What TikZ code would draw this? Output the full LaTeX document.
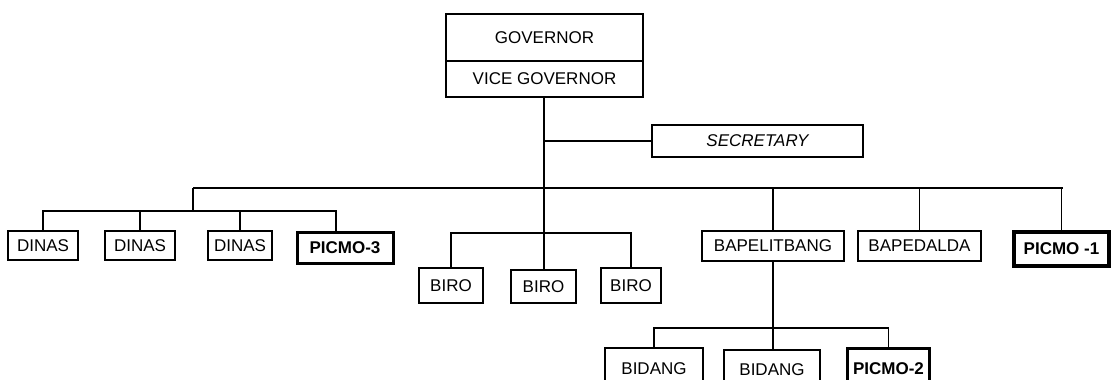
\documentclass[tikz,border=0pt]{standalone}
\usepackage{fontspec}
\setmainfont{Liberation Sans}
\begin{document}
\begin{tikzpicture}[x=1pt,y=-1pt,
  every node/.style={font=\fontsize{17}{20}\selectfont},
  box/.style={draw, line width=1.1pt, inner sep=0pt, rectangle},
  thickbox/.style={box, line width=3pt},
  heavybox/.style={box, line width=4.2pt},
  conn/.style={line width=1.1pt},
  spine/.style={line width=2pt}]
\useasboundingbox (0,0) rectangle (1114,380);
\begin{scope}
\clip (0,0) rectangle (1114,380);
% top
\node[box, minimum width=197, minimum height=47] (gov) at (544.5,37.5) {GOVERNOR};
\node[box, minimum width=197, minimum height=36] (vgov) at (544.5,79) {VICE GOVERNOR};
\node[box, minimum width=211, minimum height=32] (sec) at (757.5,141) {\itshape SECRETARY};
% dinas row
\node[box, minimum width=70, minimum height=29] (d1) at (43,245.5) {DINAS};
\node[box, minimum width=70, minimum height=29] (d2) at (140,245.5) {DINAS};
\node[box, minimum width=64, minimum height=29] (d3) at (240,245.5) {DINAS};
\node[thickbox, minimum width=96, minimum height=31] (p3) at (345,247.5) {\bfseries PICMO-3};
% biro row
\node[box, minimum width=64, minimum height=35] (b1) at (451,285.5) {BIRO};
\node[box, minimum width=65, minimum height=33] (b2) at (543.5,286.5) {BIRO};
\node[box, minimum width=60, minimum height=35] (b3) at (631,285.5) {BIRO};
% right row
\node[box, minimum width=142, minimum height=30] (bap) at (773,246) {BAPELITBANG};
\node[box, minimum width=123, minimum height=30] (bapd) at (919.5,246) {BAPEDALDA};
\node[heavybox, minimum width=95, minimum height=34] (p1) at (1061.5,249) {\bfseries PICMO -1};
% bidang row
\node[box, minimum width=98, minimum height=42] (bd1) at (654,369) {BIDANG};
\node[box, minimum width=96, minimum height=40] (bd2) at (772,370) {BIDANG};
\node[thickbox, minimum width=82, minimum height=42] (p2) at (888.5,369) {\bfseries PICMO-2};

\coordinate (mainL) at (193,188);
\coordinate (mainR) at (1063,188);
\coordinate (dinh) at (193,211);
\coordinate (p3drop) at (336,232);
\coordinate (biroh) at (543,233);
\coordinate (bidh) at (773,328);

% connectors
\draw[spine] (vgov.south -| b2.north) -- (b2.north);
\draw[conn] (sec.west -| b2.north) -- (sec.west);
\draw[conn] (mainL) -- (mainR);
\draw[spine] (mainL) -- (dinh);
\draw[conn] (d1.north) -- (d1.north |- dinh) -- (dinh -| p3drop) -- (p3drop);
\draw[conn] (d2.north |- dinh) -- (d2.north);
\draw[conn] (d3.north |- dinh) -- (d3.north);
\draw[conn] (b1.north) -- (b1.north |- biroh) -- (b3.north |- biroh) -- (b3.north);
\draw[conn] (bap.north |- mainL) -- (bap.north);
\draw[conn] (bapd.north |- mainL) -- (bapd.north);
\draw[conn] (p1.north |- mainL) -- (p1.north);
\draw[conn] (bap.south) -- (bap.south |- bd2.north);
\draw[conn] (bd1.north) -- (bd1.north |- bidh) -- (p2.north |- bidh) -- (p2.north);
\end{scope}
\end{tikzpicture}
\end{document}
